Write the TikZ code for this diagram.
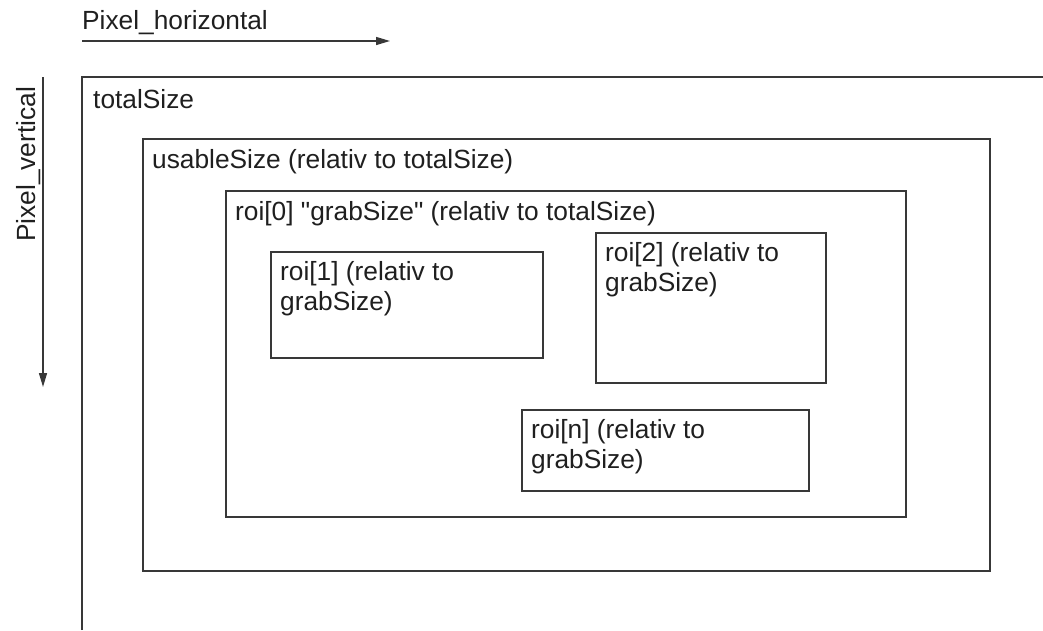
\documentclass[tikz,border=0pt]{standalone}
\usepackage{fontspec}
\setmainfont{Liberation Sans}
\usetikzlibrary{arrows.meta}
\begin{document}
\begin{tikzpicture}[x=1pt,y=-1pt,
  boxline/.style={draw=black!78,line width=1.6pt},
  lbl/.style={anchor=base west,inner sep=0pt,align=left,text=black!88,
    font=\fontsize{26.3}{30}\selectfont},
  axis/.style={draw=black!78,line width=1.4pt,-{Triangle[length=14pt,width=8pt]}}]
\useasboundingbox (0,0) rectangle (1043,630);
% axes
\coordinate (hs) at (82,41);
\coordinate (he) at (390,41);
\draw[axis] (hs) -- (he);
\node[lbl] (hlabel) at (82,29) {Pixel\_horizontal};
\coordinate (vs) at (43,77);
\coordinate (ve) at (43,387);
\draw[axis] (vs) -- (ve);
\node[lbl,rotate=90] (vlabel) at (35,242) {Pixel\_vertical};
% totalSize (open frame)
\draw[boxline] (82,630) -- (82,77) -- (1043,77);
\node[lbl] (total) at (93,108) {totalSize};
% usableSize
\draw[boxline] (143,139) rectangle (990,571);
\node[lbl] (usable) at (152,168) {usableSize (relativ to totalSize)};
% roi[0]
\draw[boxline] (226,191) rectangle (906,517);
\node[lbl] (roi0) at (235,220) {roi[0] \textquotedbl grabSize\textquotedbl\ (relativ to totalSize)};
% roi[1]
\draw[boxline] (271,252) rectangle (543,358);
\node[lbl] (roi1) at (280,310) {roi[1] (relativ to\\grabSize)};
% roi[2]
\draw[boxline] (596,233) rectangle (826,383);
\node[lbl] (roi2) at (605,291) {roi[2] (relativ to\\grabSize)};
% roi[n]
\draw[boxline] (522,410) rectangle (809,491);
\node[lbl] (roin) at (531,468) {roi[n] (relativ to\\grabSize)};
\end{tikzpicture}
\end{document}
